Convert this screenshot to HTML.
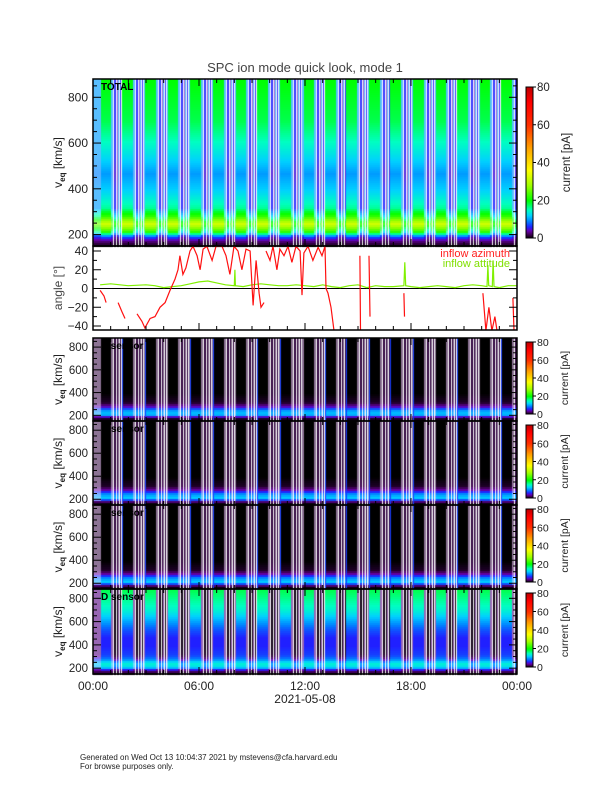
<!DOCTYPE html>
<html><head><meta charset="utf-8"><style>
html,body{margin:0;padding:0;background:#fff}
#wrap{position:relative;width:612px;height:792px;overflow:hidden;font-family:"Liberation Sans",sans-serif}
canvas,svg{position:absolute;left:0;top:0}
</style></head><body>
<div id="wrap">
<canvas id="cv" width="612" height="792"></canvas>
<svg id="sv" width="612" height="792"></svg>
</div>
<script>
// ---- data ----
const stripeHours=[0.40,1.64,2.94,4.19,5.49,6.79,8.04,9.28,10.58,11.89,13.13,14.32,15.62,16.81,18.11,19.36,20.60,21.85,23.09];
const gapPattern=['L','L','W','B','B','W','P','L','W','B','W','L'];
const vKnots=[150,175,195,215,250,285,320,400,470,550,700,880];
const totG=[0,3,8,22,32,22,16,12,10,13,18,20];
const totL=[0,3,6,16,26,16,10,10,9,10,10,10];
const totB=[0,2,4,12,22,12,6,6,5,6,6,6];
const totP=[0,1,3,10,20,10,4,4,4,4,4,4];
const senG=[0,0.5,5,12,10,4,1,0,0,0,0,0];
const senK=[0,1,4,11,9,4,2,1.5,1.5,1.5,1.5,1.5];
const dG=[0,2,6,13,14,9,7,6,6,8,14,18];
const dL=[0,2,4,11,12,6,3,3,3,3,3,3];
const dB=[0,1,3,9,10,3,1,0.5,0.5,0.5,0.5,0.5];
const azHours=[0.40,0.62,0.74,null,1.42,1.64,1.81,null,2.49,2.77,2.94,3.23,3.51,3.79,4.08,4.36,4.64,4.81,4.92,5.09,5.26,5.49,5.66,5.89,6.06,6.23,6.45,6.74,6.96,7.30,7.53,7.75,7.98,8.21,8.43,8.66,8.89,9.06,9.23,9.40,9.51,9.68,null,9.79,10.02,10.19,10.41,10.58,10.81,11.04,11.26,11.49,11.72,11.83,11.94,12.17,12.45,12.74,12.96,13.13,13.19,13.30,13.47,13.64,null,15.11,15.14,null,15.62,15.68,null,17.60,17.63,null,22.07,22.24,22.41,22.58,22.75,22.87,null,23.77,23.83];
const azVals=[-2,-8,-15,null,-15,-25,-32,null,-27,-35,-42,-32,-30,-20,-15,-2,10,20,35,15,22,40,45,35,20,42,45,30,45,45,35,15,45,40,20,42,40,-18,30,-5,-20,-15,null,40,30,45,20,42,35,45,28,45,40,-7,38,45,30,44,35,45,0,-5,-20,-45,null,35,-45,null,35,-30,null,-5,-30,null,-5,-45,-20,-45,-30,-45,null,-10,-45];
const altHours=[0.4,1,2,3,3.5,4,4.5,5,5.5,6,6.5,7,7.5,8,8.03,8.06,8.5,9,9.5,10,10.5,11,11.5,12,12.5,13,13.5,14,14.5,15,15.5,16,16.5,17,17.6,17.65,17.7,18,18.5,19,19.5,20,20.5,21,21.5,22,22.3,22.35,22.4,22.6,22.65,22.7,23,23.5,24];
const altVals=[4,5,3,4,3,1,2,3,5,7,8,6,4,3,20,3,2,4,5,4,3,3,4,3,2,4,2,1,3,4,1,3,2,2,3,28,3,2,1,2,3,2,1,3,4,3,2,25,3,2,30,2,1,3,3];
const vTicks=[200,400,600,800];
const angTicks=[-40,-20,0,20,40];
const cbTicks=[0,20,40,60,80];
const timeTicks=['00:00','06:00','12:00','18:00','00:00'];

// ---- layout ----
const X0=93,X1=517,W=X1-X0;
const VMIN=150,VMAX=880;
const panels=[
 {key:'total',t:79,b:246,label:'TOTAL'},
 {key:'A',t:338,b:421,label:'A sensor'},
 {key:'B',t:421,b:505,label:'B sensor'},
 {key:'C',t:505,b:589,label:'C sensor'},
 {key:'D',t:589,b:674,label:'D sensor'}];
const ang={t:246,b:330};
const xOf=h=>X0+h/24*W;
const angY=a=>288.5-a*0.9375;

const cmap=[[0,[0,0,0]],[2,[60,0,80]],[4,[106,0,176]],[6,[32,32,255]],[9,[0,128,255]],[12,[0,208,255]],[15,[0,255,192]],[20,[0,255,0]],[28,[160,255,0]],[36,[255,255,0]],[48,[255,160,0]],[60,[255,48,0]],[72,[255,0,0]],[80,[192,0,0]]];
function rgb(v){v=Math.max(0,Math.min(80,v));for(let i=1;i<cmap.length;i++){if(v<=cmap[i][0]){const a=cmap[i-1],b=cmap[i],f=(v-a[0])/(b[0]-a[0]);return a[1].map((c,k)=>c+(b[1][k]-c)*f);}}return [192,0,0];}
function col(v,wh){const c=rgb(v).map(x=>Math.round(x+(255-x)*(wh||0)));return 'rgb('+c.join(',')+')';}
function interp(arr,v){for(let i=1;i<vKnots.length;i++){if(v<=vKnots[i]){const f=(v-vKnots[i-1])/(vKnots[i]-vKnots[i-1]);return arr[i-1]+(arr[i]-arr[i-1])*f;}}return arr[arr.length-1];}
function colType(px){const h=px/W*24;let s=null;for(const st of stripeHours){if(st<=h)s=st;}if(s===null)return 'L';const o=(h-s)/24*W;if(o<0.9)return 'E';if(o<10.5)return 'G';return gapPattern[Math.floor(o-10.5)%gapPattern.length];}
function profile(key,type){
 if(key==='total')return type==='G'||type==='E'?[totG,0]:type==='L'?[totL,0.35]:type==='B'?[totB,0.1]:[totP,0.4];
 if(key==='D')return type==='G'||type==='E'?[dG,0]:type==='L'?[dL,0.4]:[dB,0];
 return type==='G'?[senG,0]:type==='L'?[senK,0.45]:[senK,0];}

const cv=document.getElementById('cv'),ctx=cv.getContext('2d');
ctx.fillStyle='#fff';ctx.fillRect(0,0,612,792);
for(const p of panels){
 const h=p.b-p.t;
 for(let px=0;px<W;px++){
  const type=colType(px);
  if(type==='W'){ctx.fillStyle='#fff';ctx.fillRect(X0+px,p.t,1,h);continue;}
  if(type==='E'&&p.key!=='total'&&p.key!=='D'){ctx.fillStyle=col(7);ctx.fillRect(X0+px,p.t,1,h);continue;}
  const pr=profile(p.key,type);
  for(let y=p.t;y<p.b;y+=2){const v=VMIN+(p.b-y)/h*(VMAX-VMIN);const val=interp(pr[0],v);ctx.fillStyle=col(val,v<200?0:pr[1]);ctx.fillRect(X0+px,y,1,2);}
 }
 const cbt=p.key==='total'?87:p.t+4,cbb=p.key==='total'?238:p.b-7;
 for(let y=cbt;y<cbb;y++){ctx.fillStyle=col((cbb-y)/(cbb-cbt)*80);ctx.fillRect(526,y,7,1);}
}

// ---- SVG overlay ----
const NS='http://www.w3.org/2000/svg',sv=document.getElementById('sv');
function el(tag,attrs,parent){const e=document.createElementNS(NS,tag);for(const k in attrs)e.setAttribute(k,attrs[k]);(parent||sv).appendChild(e);return e;}
function txt(s,x,y,attrs){const e=el('text',Object.assign({x:x,y:y,'font-family':'Liberation Sans, sans-serif','font-size':11,fill:'#222'},attrs||{}));e.textContent=s;return e;}

let t=txt('SPC ion mode quick look, mode 1',305,72,{'text-anchor':'middle','font-size':13,fill:'#444'});



for(const p of panels){
 const g=el('g',{});
 
 
 el('rect',{x:X0,y:p.t,width:W,height:p.b-p.t,fill:'none',stroke:'#000','stroke-width':1.5},g);
 const h=p.b-p.t,vy=v=>p.b-(v-VMIN)/(VMAX-VMIN)*h;
 for(let v=200;v<=850;v+=50){const m=v%200===0,L=m?8:4;
  el('line',{x1:X0,x2:X0+L,y1:vy(v),y2:vy(v),stroke:'#000'},g);
  el('line',{x1:X1,x2:X1-L,y1:vy(v),y2:vy(v),stroke:'#000'},g);}
 for(const v of vTicks){const tl=txt(String(v),88,vy(v)+4,{'text-anchor':'end','font-size':p.key==='total'?12:11.5});
  
  }
 for(let hh=0;hh<=24;hh++){const L=hh%6===0?7:4;
  el('line',{x1:xOf(hh),x2:xOf(hh),y1:p.b,y2:p.b-L,stroke:'#000'},g);
  el('line',{x1:xOf(hh),x2:xOf(hh),y1:p.t,y2:p.t+L,stroke:'#000'},g);}
 const yl=el('text',{'font-family':'Liberation Sans, sans-serif','font-size':12,fill:'#222','text-anchor':'middle',transform:'translate(62,'+((p.t+p.b)/2)+') rotate(-90)'});
 const ts1=el('tspan',{},yl);ts1.textContent='v';
 const ts2=el('tspan',{'font-size':8,dy:3,'font-weight':'bold'},yl);ts2.textContent='eq';
 const ts3=el('tspan',{dy:-3},yl);ts3.textContent=' [km/s]';
 
 
 const pl=txt(p.label,101,p.t+11,{'font-size':10,'font-weight':'bold',fill:'#000'});
 
 
 const cbt=p.key==='total'?87:p.t+4,cbb=p.key==='total'?238:p.b-7;
 const cb=el('rect',{x:526,y:cbt,width:7,height:cbb-cbt,fill:'none',stroke:'#000'});
 
 
 for(const c of cbTicks){const y=cbb-c/80*(cbb-cbt);
  el('line',{x1:533,x2:536,y1:y,y2:y,stroke:'#000'});
  const cl=txt(String(c),537,y+4,{'font-size':p.key==='total'?11.5:10.5});
  
  }
 const ct=txt('current [pA]',0,0,{'font-size':p.key==='total'?11.5:10.5,'text-anchor':'middle',transform:'translate('+(p.key==='total'?570:568)+','+((cbt+cbb)/2)+') rotate(-90)'});
 
 
}

// angle panel
const ga=el('g',{});


el('clipPath',{id:'ac'},ga);
el('rect',{x:X0,y:ang.t,width:W,height:ang.b-ang.t},document.getElementById('ac'));
el('line',{x1:X0,x2:X1,y1:angY(0),y2:angY(0),stroke:'#000'},ga);
function series(hs,vs,color,name){let d='',pen=false;
 for(let i=0;i<hs.length;i++){if(hs[i]===null){pen=false;continue;}d+=(pen?'L':'M')+xOf(hs[i]).toFixed(1)+' '+angY(vs[i]).toFixed(1)+' ';pen=true;}
 const pth=el('path',{d:d,fill:'none',stroke:color,'stroke-width':1.2,'clip-path':'url(#ac)'},ga);
 
 }
series(altHours,altVals,'#80f000','inflow-attitude-line');
series(azHours,azVals,'#ff1010','inflow-azimuth-line');
el('rect',{x:X0,y:ang.t,width:W,height:ang.b-ang.t,fill:'none',stroke:'#000','stroke-width':1.5},ga);
for(let a=-40;a<=40;a+=10){const L=a%20===0?8:4;
 el('line',{x1:X0,x2:X0+L,y1:angY(a),y2:angY(a),stroke:'#000'},ga);
 el('line',{x1:X1,x2:X1-L,y1:angY(a),y2:angY(a),stroke:'#000'},ga);}
for(let hh=0;hh<=24;hh++){const L=hh%6===0?7:4;
 el('line',{x1:xOf(hh),x2:xOf(hh),y1:ang.b,y2:ang.b-L,stroke:'#000'},ga);}
for(const a of angTicks){const tl=txt(String(a).replace('-','\u2212'),88,angY(a)+4,{'text-anchor':'end','font-size':12});
 
 }
t=txt('angle [°]',0,0,{'font-size':12,'text-anchor':'middle',fill:'#444',transform:'translate(62,288) rotate(-90)'});


t=txt('inflow azimuth',510,257,{'font-size':11,'text-anchor':'end',fill:'#ff2020'});


t=txt('inflow attitude',510,267,{'font-size':11,'text-anchor':'end',fill:'#80e000'});



timeTicks.forEach((s,i)=>{const tl=txt(s,xOf(i*6),690,{'text-anchor':'middle','font-size':12});
 
 });
t=txt('2021-05-08',305,703,{'text-anchor':'middle','font-size':12});


t=txt('Generated on Wed Oct 13 10:04:37 2021 by mstevens@cfa.harvard.edu',80,760,{'font-size':8});


t=txt('For browse purposes only.',80,769,{'font-size':8});


</script>
</body></html>
